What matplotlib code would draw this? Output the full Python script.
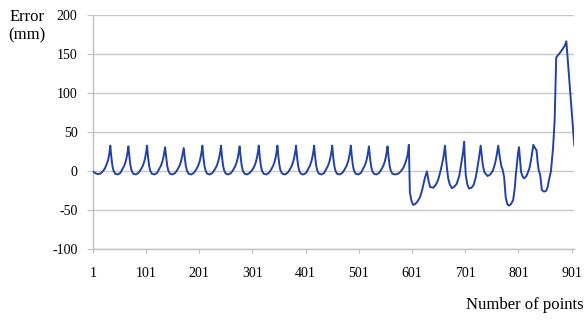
import matplotlib
matplotlib.use("Agg")
import matplotlib.pyplot as plt

plt.rcParams['font.family'] = ['Liberation Serif', 'DejaVu Serif']
plt.rcParams['axes.unicode_minus'] = False

# point index and error (mm)
idx = [1, 5, 10, 15, 20, 24, 27, 30, 32, 34,
       36, 38, 40, 43, 48, 53, 56, 60, 63, 65, 67, 68,
       70, 72, 74, 77, 82, 87, 91, 95, 98, 100, 102, 103,
       105, 107, 109, 112, 117, 122, 125, 129, 132, 134, 136, 137,
       139, 141, 143, 146, 151, 156, 160, 164, 167, 169, 171, 172,
       174, 176, 178, 181, 186, 191, 195, 199, 202, 204, 206, 207,
       209, 211, 213, 216, 221, 226, 230, 234, 237, 239, 241, 242,
       244, 246, 248, 251, 256, 261, 265, 269, 272, 274, 276, 277,
       279, 281, 283, 286, 291, 296, 301, 305, 308, 310, 312, 313,
       315, 317, 319, 322, 327, 332, 336, 340, 343, 345, 347, 348,
       350, 352, 354, 357, 362, 367, 371, 375, 378, 380, 382, 383,
       385, 387, 389, 392, 397, 402, 405, 409, 412, 414, 416, 417,
       419, 421, 423, 426, 431, 436, 439, 443, 446, 448, 450, 451,
       453, 455, 457, 460, 465, 470, 474, 478, 481, 483, 485, 486,
       488, 490, 492, 495, 500, 505, 508, 512, 515, 517, 519, 520,
       522, 524, 526, 529, 534, 539, 543, 547, 550, 552, 554, 555,
       557, 559, 561, 564, 569, 575, 580, 585, 589, 592, 594, 595,
       597, 600, 603, 607, 612, 616, 620, 625, 629, 632, 635, 641,
       646, 650, 654, 657, 660, 663, 665, 667, 669, 672, 676, 680,
       685, 690, 694, 697, 699, 700, 702, 705, 708, 713, 717, 721,
       724, 727, 730, 732, 734, 737, 743, 748, 753, 757, 760, 763,
       766, 769, 771, 774, 777, 780, 783, 787, 791, 794, 796, 798,
       800, 802, 804, 806, 809, 812, 816, 819, 822, 825, 827, 829,
       832, 835, 837, 839, 842, 845, 849, 853, 856, 858, 862, 866,
       869, 872, 873, 880, 888, 891, 906]
err = [0, -2, -3.5, -3, 0, 4, 9, 15, 22, 33,
       18, 7, 1, -3, -4, -2, 2, 7, 13, 19, 27, 32,
       18, 7, 1, -3, -4, -2, 2, 7, 13, 19, 27, 33,
       18, 7, 1, -3, -4, -2, 2, 7, 13, 19, 27, 31,
       18, 7, 1, -3, -4, -2, 2, 7, 13, 19, 26, 30,
       17, 7, 1, -3, -4, -2, 2, 7, 13, 19, 27, 33,
       18, 7, 1, -3, -4, -2, 2, 7, 13, 19, 27, 33,
       18, 7, 1, -3, -4, -2, 2, 7, 13, 19, 27, 32,
       18, 7, 1, -3, -4, -2, 2, 7, 13, 19, 27, 33,
       18, 7, 1, -3, -4, -2, 2, 7, 13, 19, 27, 33,
       18, 7, 1, -3, -4, -2, 2, 7, 13, 19, 27, 33,
       18, 7, 1, -3, -4, -2, 2, 7, 13, 19, 27, 33,
       18, 7, 1, -3, -4, -2, 2, 7, 13, 19, 27, 33,
       18, 7, 1, -3, -4, -2, 2, 7, 13, 19, 27, 33,
       18, 7, 1, -3, -4, -2, 2, 7, 13, 19, 27, 32,
       18, 7, 1, -3, -4, -2, 2, 7, 13, 19, 27, 32,
       18, 7, 1, -3, -4, -3, 0, 5, 12, 19, 27, 34,
       -27, -38, -43, -42, -38, -33, -24, -9, 0, -12, -20, -21,
       -17, -11, -1, 8, 18, 33, 15, 2, -9, -17, -21.5, -20,
       -16, -5, 12, 25, 38, 20, -5, -17, -22, -21, -17, -7,
       5, 18, 33, 20, 8, -1, -6, -4, 1, 10, 20, 33,
       18, 6, 3, -7, -33, -42, -44, -42, -37, -22, -5, 8,
       22, 31, 15, -1, -7, -9, -6, -1, 5, 16, 25, 34,
       30, 27, 12, 2, -5, -24, -26, -25, -20, -12, 0, 30,
       65, 146, 147, 153, 161, 167, 33]

xticks = [1, 101, 201, 301, 401, 501, 601, 701, 801, 901]
yticks = [-100, -50, 0, 50, 100, 150, 200]

fig = plt.figure(figsize=(5.87, 3.24), dpi=100)
ax = fig.add_axes([0.158, 0.2306, 0.8204, 0.7216])

ax.plot(idx, err, color='#2342a8', linewidth=1.4, zorder=3)

ax.set_xlim(1, 906)
ax.set_ylim(-100, 200)
ax.set_xticks(xticks)
ax.set_yticks(yticks)
ax.grid(axis='y', color='#c8c8c8', linewidth=1.0)
for s in ['top', 'right']:
    ax.spines[s].set_visible(False)
for s in ['left', 'bottom']:
    ax.spines[s].set_color('#c0c0c0')
    ax.spines[s].set_linewidth(1.0)
ax.tick_params(axis='y', length=4, color='#c0c0c0', pad=7, labelsize=10)
ax.tick_params(axis='x', length=3, color='#c0c0c0', pad=10, labelsize=10)

fig.text(27/587, 1 - 26/324, "Error\n(mm)", ha='center', va='center', fontsize=12)
fig.text(584/587, 1 - 305/324, "Number of points", ha='right', va='center', fontsize=12)

fig.savefig("out.png", dpi=100)
